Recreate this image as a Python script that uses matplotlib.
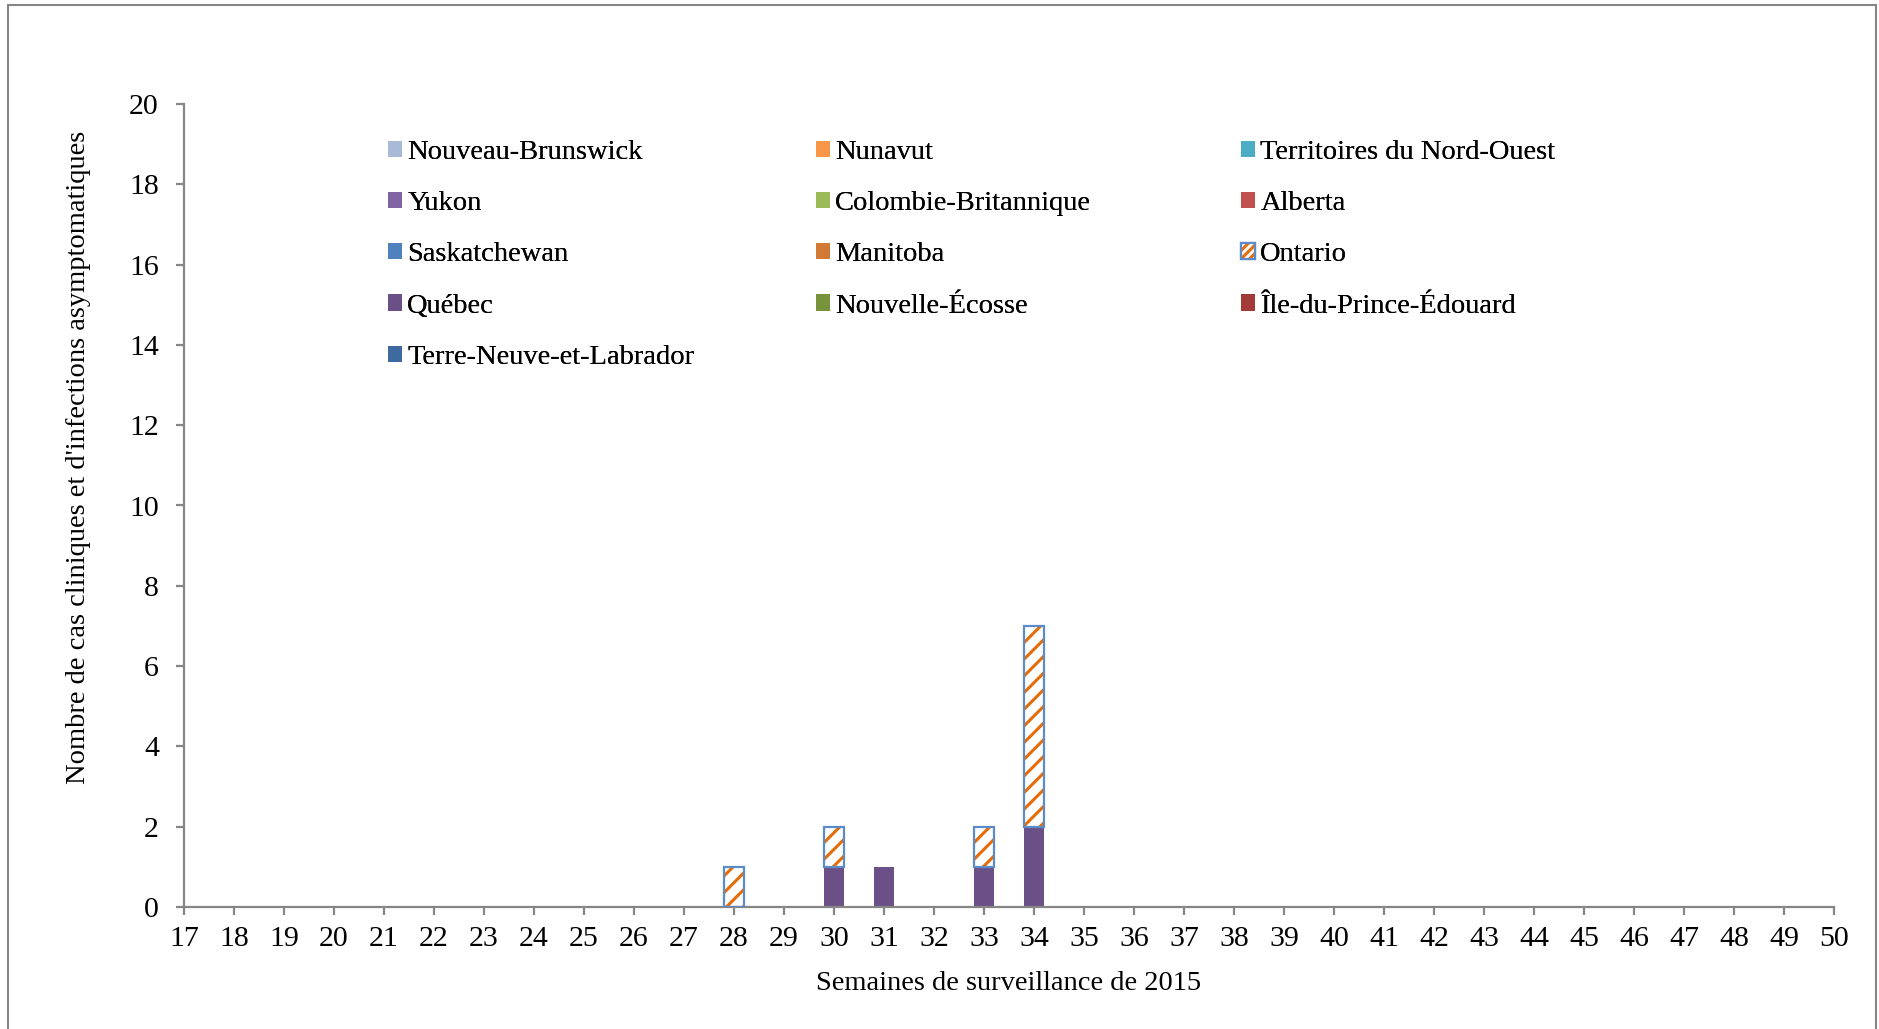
import numpy as np
import matplotlib
matplotlib.use("Agg")
import matplotlib.pyplot as plt
from matplotlib.patches import Patch, Rectangle
from matplotlib.legend_handler import HandlerTuple

# ============================================
# DATA
# ============================================
weeks = list(range(17, 51))

provinces = [
    "Nouveau-Brunswick", "Nunavut", "Territoires du Nord-Ouest",
    "Yukon", "Colombie-Britannique", "Alberta",
    "Saskatchewan", "Manitoba", "Ontario",
    "Québec", "Nouvelle-Écosse", "Île-du-Prince-Édouard",
    "Terre-Neuve-et-Labrador",
]

colors = {
    "Nouveau-Brunswick": "#A9B9D8",
    "Nunavut": "#F79646",
    "Territoires du Nord-Ouest": "#4BACC6",
    "Yukon": "#8064A2",
    "Colombie-Britannique": "#9BBB59",
    "Alberta": "#C0504D",
    "Saskatchewan": "#4F81BD",
    "Manitoba": "#D07A35",
    "Ontario": "#E46C0A",
    "Québec": "#6A5086",
    "Nouvelle-Écosse": "#77933C",
    "Île-du-Prince-Édouard": "#A33B38",
    "Terre-Neuve-et-Labrador": "#3E6AA0",
}

# cases per week (only Québec and Ontario have cases)
quebec_weeks = [30, 31, 33, 34]
quebec_cases = [1, 1, 1, 2]
ontario_weeks = [28, 30, 33, 34]
ontario_cases = [1, 1, 1, 5]

values = {p: np.zeros(len(weeks)) for p in provinces}
for w, c in zip(quebec_weeks, quebec_cases):
    values["Québec"][weeks.index(w)] = c
for w, c in zip(ontario_weeks, ontario_cases):
    values["Ontario"][weeks.index(w)] = c

# stacking order: Québec at the bottom, Ontario above, others (all zero)
stack_order = ["Québec", "Ontario"] + [p for p in provinces if p not in ("Québec", "Ontario")]

# ============================================
# STYLE
# ============================================
plt.rcParams['font.family'] = ['Liberation Serif', 'DejaVu Serif']
plt.rcParams['hatch.linewidth'] = 2.2

GRAY = "#868686"
EDGE_BLUE = "#5B8BC9"
FS = 20.5
W, H, DPI = 1879, 1029, 100

fig = plt.figure(figsize=(W / DPI, H / DPI), dpi=DPI)
ax = fig.add_axes([184 / W, 1 - 907 / H, (1834 - 184) / W, (907 - 104) / H])

x = np.array(weeks)
bar_w = 0.4
bottom = np.zeros(len(weeks))
handles = {}
for p in stack_order:
    v = values[p]
    if p == "Ontario":
        ax.bar(x, v, bar_w, bottom=bottom, facecolor="white",
               edgecolor=colors[p], hatch="//", linewidth=0, zorder=2)
        ax.bar(x, v, bar_w, bottom=bottom, fill=False,
               edgecolor=EDGE_BLUE, linewidth=[1.6 if a > 0 else 0 for a in v], zorder=3)
        h1 = Patch(facecolor="white", edgecolor=colors[p], hatch="////", linewidth=0)
        h2 = Patch(fill=False, edgecolor=EDGE_BLUE, linewidth=1.6)
        handles[p] = (h1, h2)
    else:
        ax.bar(x, v, bar_w, bottom=bottom, color=colors[p], linewidth=0, zorder=2)
        handles[p] = Patch(facecolor=colors[p], linewidth=0)
    bottom = bottom + v

ax.set_xlim(17, 50)
ax.set_ylim(0, 20)
ax.set_xticks(weeks)
ax.set_xticklabels([str(w) for w in weeks])
ax.set_yticks(range(0, 21, 2))

for s in ["top", "right"]:
    ax.spines[s].set_visible(False)
for s in ["left", "bottom"]:
    ax.spines[s].set_color(GRAY)
    ax.spines[s].set_linewidth(1.6)
ax.tick_params(axis="both", colors=GRAY, labelcolor="black", labelsize=21.5,
               width=1.6, length=6)
ax.tick_params(axis="x", pad=8)
ax.tick_params(axis="y", pad=12)

ax.set_xlabel("Semaines de surveillance de 2015", fontsize=FS, labelpad=13)
ax.set_ylabel("Nombre de cas cliniques et d'infections asymptomatiques", fontsize=FS)
ax.yaxis.set_label_coords(-0.0565, 0.56)

# ============================================
# LEGEND (three columns, filled row by row)
# ============================================
col_x = [388, 816, 1241]
top_y = 140
for c in range(3):
    names = provinces[c::3]
    leg = fig.legend([handles[n] for n in names], names,
                     loc="upper left", bbox_to_anchor=(col_x[c] / W, 1 - top_y / H),
                     frameon=False, fontsize=FS, borderpad=0, borderaxespad=0,
                     handlelength=0.5, handleheight=0.5, handletextpad=0.18,
                     labelspacing=0.92,
                     handler_map={tuple: HandlerTuple(ndivide=1)})
    fig.add_artist(leg)

# outer chart border
fig.add_artist(Rectangle((8 / W, -0.05), (1876 - 8) / W, 1.05 - 5 / H,
                         transform=fig.transFigure, fill=False,
                         edgecolor=GRAY, linewidth=1.5))

fig.savefig("out.png", dpi=DPI)
plt.close(fig)
